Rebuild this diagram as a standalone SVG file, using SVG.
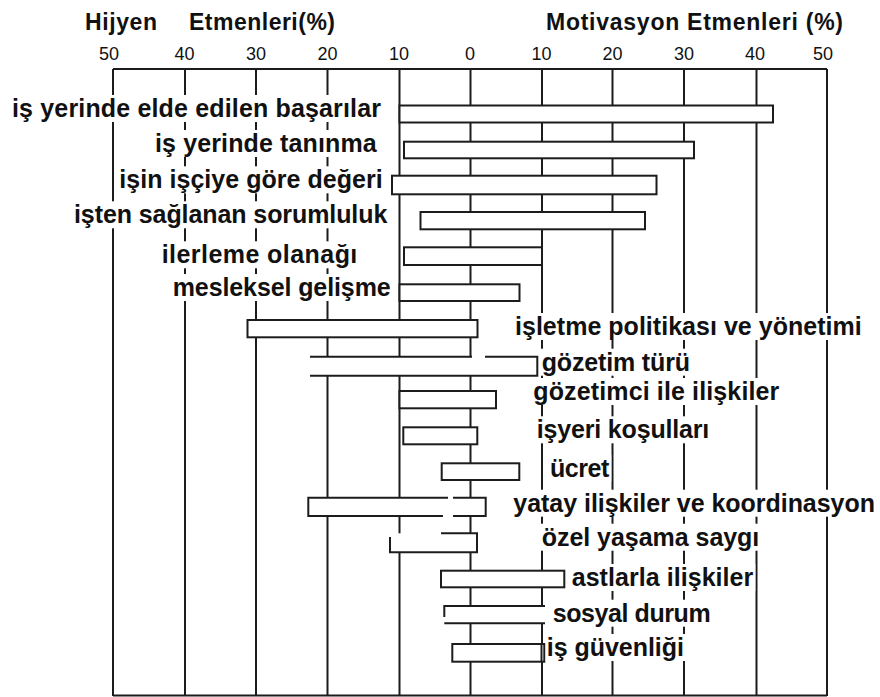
<svg xmlns="http://www.w3.org/2000/svg" width="880" height="697" viewBox="0 0 880 697">
<style>
.ln{fill:none;stroke:#1c1c1c;stroke-width:2}
.bar{fill:#fff;stroke:#1c1c1c;stroke-width:2}
.bg{fill:#fff;stroke:none}
.lbl{font-family:"Liberation Sans",Arial,sans-serif;font-weight:bold;font-size:25px;fill:#111}
.tt{font-family:"Liberation Sans",Arial,sans-serif;font-weight:bold;font-size:23px;fill:#111}
.tk{font-family:"Liberation Sans",Arial,sans-serif;font-size:18px;fill:#111;text-anchor:middle}
</style>
<rect width="880" height="697" fill="#fff"/>
<g id="titles">
<text class="tt" x="85" y="30" textLength="72" lengthAdjust="spacing">Hijyen</text>
<text class="tt" x="189" y="30" textLength="146" lengthAdjust="spacing">Etmenleri(%)</text>
<text class="tt" x="546" y="30" textLength="297" lengthAdjust="spacing">Motivasyon Etmenleri (%)</text>
</g>
<g id="ticks">
<text class="tk" x="109" y="60">50</text>
<text class="tk" x="184.5" y="60">40</text>
<text class="tk" x="256" y="60">30</text>
<text class="tk" x="327.5" y="60">20</text>
<text class="tk" x="399" y="60">10</text>
<text class="tk" x="470" y="60">0</text>
<text class="tk" x="541.5" y="60">10</text>
<text class="tk" x="612.5" y="60">20</text>
<text class="tk" x="684" y="60">30</text>
<text class="tk" x="755" y="60">40</text>
<text class="tk" x="823" y="60">50</text>
</g>
<g id="grid">
<path class="ln" d="M113 69H827 M113 695.5H827 M113 69V696 M185 69V696 M256 69V696 M327.5 69V696 M399.5 69V696 M470.5 69V696 M542 69V696 M612.5 69V696 M684 69V696 M756.5 69V696 M827 69V696"/>
</g>
<g id="bars">
<rect class="bar" x="399.5" y="105.5" width="373.5" height="17"/>
<rect class="bar" x="404" y="141.7" width="290" height="16.6"/>
<rect class="bar" x="392" y="175.7" width="264.5" height="18.6"/>
<rect class="bar" x="420.5" y="212" width="224.5" height="17.3"/>
<rect class="bar" x="404" y="247.3" width="138" height="17.7"/>
<rect class="bar" x="399.5" y="284.3" width="120" height="16.7"/>
<rect class="bar" x="247.5" y="320" width="230" height="17.3"/>
<rect class="bg" x="310" y="356.7" width="227.3" height="19"/>
<path class="ln" d="M310 356.7H472 M485 356.7H537.3V375.7H310"/>
<rect class="bar" x="399.5" y="391" width="96.5" height="17.3"/>
<rect class="bar" x="403.3" y="427.3" width="74" height="17"/>
<rect class="bar" x="441.7" y="463.3" width="77.6" height="16.7"/>
<rect class="bg" x="308.3" y="497.7" width="177.4" height="18.3"/>
<path class="ln" d="M448 497.7H308.3V516H443 M453 516H485.7V497.7H453"/>
<rect class="bg" x="390" y="533.3" width="87" height="19"/>
<path class="ln" d="M441 533.3H477V552.3H390V537"/>
<rect class="bar" x="441" y="570.7" width="123.3" height="16.6"/>
<rect class="bg" x="444.3" y="606" width="100.7" height="17.3"/>
<path class="ln" d="M444.3 617V606H545 M444.3 623.3H545"/>
<rect class="bar" x="452.3" y="644" width="92" height="17.7"/>
<path class="ln" d="M541.5 644V661.7"/>
</g>
<g id="labels">
<rect class="bg" x="10" y="95" width="373" height="27"/>
<text class="lbl" x="12" y="117" textLength="369" lengthAdjust="spacing">iş yerinde elde edilen başarılar</text>
<rect class="bg" x="153" y="130" width="225.7" height="27"/>
<text class="lbl" x="155" y="152" textLength="221.7" lengthAdjust="spacing">iş yerinde tanınma</text>
<rect class="bg" x="117.3" y="166.3" width="267.4" height="27"/>
<text class="lbl" x="119.3" y="188.3" textLength="263.4" lengthAdjust="spacing">işin işçiye göre değeri</text>
<rect class="bg" x="72" y="201.3" width="317.3" height="27"/>
<text class="lbl" x="74" y="223.3" textLength="313.3" lengthAdjust="spacing">işten sağlanan sorumluluk</text>
<rect class="bg" x="159.7" y="241.3" width="199.6" height="27"/>
<text class="lbl" x="161.7" y="263.3" textLength="195.6" lengthAdjust="spacing">ilerleme olanağı</text>
<rect class="bg" x="170.7" y="274" width="222" height="27"/>
<text class="lbl" x="172.7" y="296" textLength="218" lengthAdjust="spacing">mesleksel gelişme</text>
<rect class="bg" x="513" y="313" width="350.7" height="27"/>
<text class="lbl" x="515" y="335" textLength="346.7" lengthAdjust="spacing">işletme politikası ve yönetimi</text>
<rect class="bg" x="539.7" y="348.7" width="152.3" height="27"/>
<text class="lbl" x="541.7" y="370.7" textLength="148.3" lengthAdjust="spacing">gözetim türü</text>
<rect class="bg" x="531.3" y="378" width="250" height="27"/>
<text class="lbl" x="533.3" y="400" textLength="246" lengthAdjust="spacing">gözetimci ile ilişkiler</text>
<rect class="bg" x="534.7" y="416.3" width="176.6" height="27"/>
<text class="lbl" x="536.7" y="438.3" textLength="172.6" lengthAdjust="spacing">işyeri koşulları</text>
<rect class="bg" x="548" y="454.7" width="63.3" height="27"/>
<text class="lbl" x="550" y="476.7" textLength="59.3" lengthAdjust="spacing">ücret</text>
<rect class="bg" x="511.3" y="489.7" width="365.7" height="27"/>
<text class="lbl" x="513.3" y="511.7" textLength="361.7" lengthAdjust="spacing">yatay ilişkiler ve koordinasyon</text>
<rect class="bg" x="539.7" y="523.7" width="221.6" height="27"/>
<text class="lbl" x="541.7" y="545.7" textLength="217.6" lengthAdjust="spacing">özel yaşama saygı</text>
<rect class="bg" x="569.7" y="564" width="185.6" height="27"/>
<text class="lbl" x="571.7" y="586" textLength="181.6" lengthAdjust="spacing">astlarla ilişkiler</text>
<rect class="bg" x="550.7" y="599.7" width="162" height="27"/>
<text class="lbl" x="552.7" y="621.7" textLength="158" lengthAdjust="spacing">sosyal durum</text>
<rect class="bg" x="545.7" y="634" width="140.3" height="27"/>
<text class="lbl" x="546.7" y="656" textLength="137.3" lengthAdjust="spacing">iş güvenliği</text>
</g>
</svg>
